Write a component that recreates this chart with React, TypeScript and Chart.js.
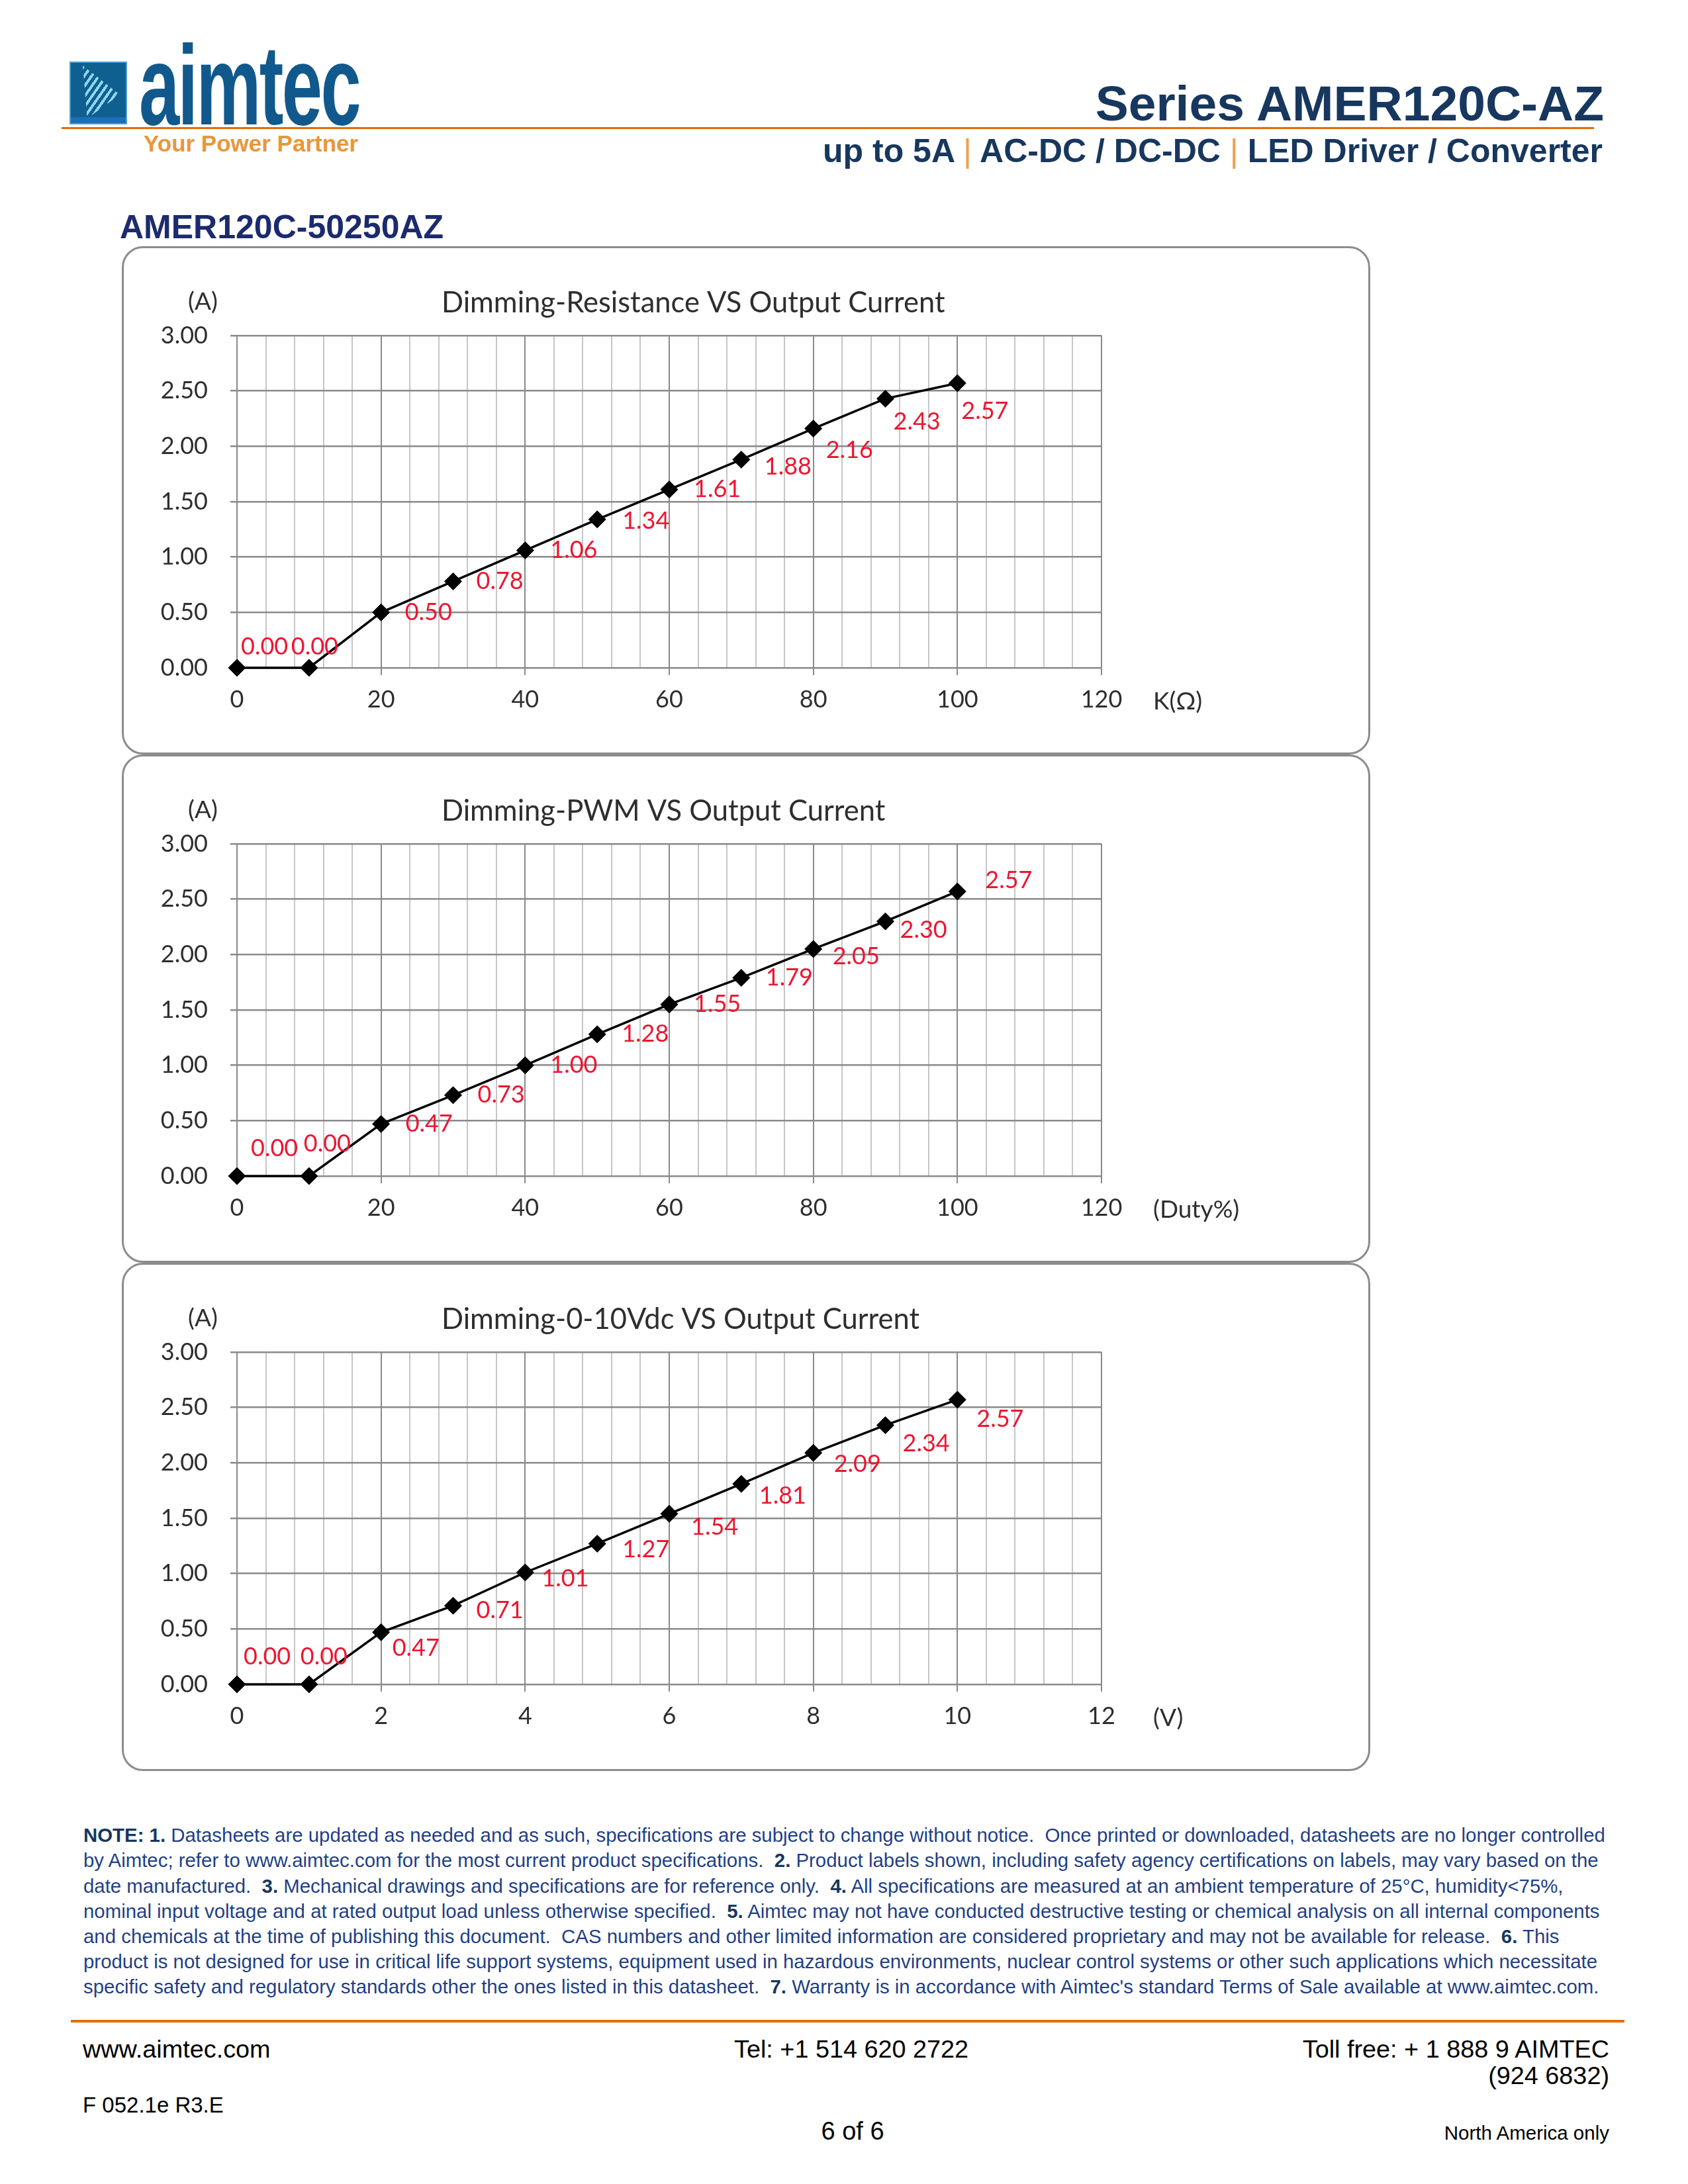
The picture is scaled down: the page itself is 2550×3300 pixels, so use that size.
import React, { useEffect, useRef } from 'react';
import { Chart, registerables } from 'chart.js';

Chart.register(...registerables);

// ---------------- data ----------------
const RES_X = [0, 10, 20, 30, 40, 50, 60, 70, 80, 90, 100];
const RES_Y = [0.0, 0.0, 0.5, 0.78, 1.06, 1.34, 1.61, 1.88, 2.16, 2.43, 2.57];

const PWM_X = [0, 10, 20, 30, 40, 50, 60, 70, 80, 90, 100];
const PWM_Y = [0.0, 0.0, 0.47, 0.73, 1.0, 1.28, 1.55, 1.79, 2.05, 2.3, 2.57];

const VDC_X = [0, 1, 2, 3, 4, 5, 6, 7, 8, 9, 10];
const VDC_Y = [0.0, 0.0, 0.47, 0.71, 1.01, 1.27, 1.54, 1.81, 2.09, 2.34, 2.57];

const Y_MIN = 0;
const Y_MAX = 3;
const Y_STEP = 0.5;

const RES_AXIS = { max: 120, major: 20, minor: 4 };
const PWM_AXIS = { max: 120, major: 20, minor: 4 };
const VDC_AXIS = { max: 12, major: 2, minor: 0.4 };

const TITLES = [
  'Dimming-Resistance VS Output Current',
  'Dimming-PWM VS Output Current',
  'Dimming-0-10Vdc VS Output Current',
];
const X_TITLES = ['K(Ω)', '(Duty%)', '(V)'];
const Y_TITLE = '(A)';

// data-label placement (px offsets of the label's left/middle from its point)
const RES_LABEL_OFFSETS: [number, number][] = [
  [6, -32], [-27, -32], [36, 0], [35, 0], [38, 0], [38, 3], [37, 0], [35, 11], [19, 33], [12, 35], [6, 42],
];
const PWM_LABEL_OFFSETS: [number, number][] = [
  [21, -42], [-8, -49], [37, 0], [37, 0], [38, 0], [37, 0], [37, 0], [37, 0], [29, 11], [22, 13], [42, -17],
];
const VDC_LABEL_OFFSETS: [number, number][] = [
  [10, -42], [-13, -42], [17, 24], [35, 7], [25, 9], [38, 9], [33, 20], [27, 18], [31, 17], [26, 28], [29, 29],
];

// ---------------- styles ----------------
const CHART_FONT = 'Lato, "Open Sans", sans-serif';
const PAGE_FONT = '"Liberation Sans", Arial, sans-serif';
const RED = '#ee1530';
const AXIS_TEXT = '#2e2e2e';
const MAJOR = '#8a8a8a';
const MINOR = '#c6c6c6';
const NAVY = '#17375e';
const NOTE_BLUE = '#1f3f86';
const ORANGE = '#e46c0a';

const PANEL_LEFT = 184;
const PANEL_W = 1886;
const PANEL_H = 768;
const PANEL_TOPS = [372, 1140, 1908];

type ChartCfg = {
  title: string;
  xTitle: string;
  xs: number[];
  ys: number[];
  axis: { max: number; major: number; minor: number };
  offsets: [number, number][];
};

const isMult = (v: number, m: number) => Math.abs(v / m - Math.round(v / m)) < 1e-6;

function DimChart({ cfg, top }: { cfg: ChartCfg; top: number }) {
  const ref = useRef<HTMLCanvasElement>(null);
  useEffect(() => {
    const canvas = ref.current!;
    const textPlugin = {
      id: 'pageTexts',
      afterDatasetsDraw(chart: any) {
        const ctx = chart.ctx as CanvasRenderingContext2D;
        const meta = chart.getDatasetMeta(0);
        ctx.save();
        ctx.textAlign = 'left';
        ctx.textBaseline = 'middle';
        ctx.font = `36px ${CHART_FONT}`;
        ctx.fillStyle = RED;
        meta.data.forEach((pt: any, i: number) => {
          const [dx, dy] = cfg.offsets[i];
          ctx.fillText(cfg.ys[i].toFixed(2), pt.x + dx, pt.y + dy);
        });
        ctx.fillStyle = AXIS_TEXT;
        ctx.font = `37px ${CHART_FONT}`;
        ctx.fillText(Y_TITLE, 100, 84);
        ctx.font = `43.5px ${CHART_FONT}`;
        ctx.fillText(cfg.title, 483, 86);
        ctx.font = `37px ${CHART_FONT}`;
        ctx.fillText(cfg.xTitle, 1558, 688);
        ctx.restore();
      },
    };
    const { max, major, minor } = cfg.axis;
    const chart = new Chart(canvas, {
      type: 'scatter',
      data: {
        datasets: [
          {
            data: cfg.xs.map((x, i) => ({ x, y: cfg.ys[i] })),
            showLine: true,
            borderColor: '#000',
            borderWidth: 3.5,
            pointStyle: 'rectRot',
            pointRadius: 13,
            pointBackgroundColor: '#000',
            pointBorderColor: '#000',
            pointBorderWidth: 1,
            tension: 0,
            clip: false as any,
          },
        ],
      },
      options: {
        animation: false,
        responsive: false,
        devicePixelRatio: 1,
        layout: { padding: { left: 0, right: PANEL_W - 1480, top: 135, bottom: 0 } },
        plugins: { legend: { display: false }, tooltip: { enabled: false }, title: { display: false } },
        scales: {
          x: {
            type: 'linear',
            min: 0,
            max,
            afterFit: (s: any) => {
              s.height = PANEL_H - 637;
            },
            ticks: {
              stepSize: minor,
              autoSkip: false,
              maxRotation: 0,
              padding: 16,
              color: AXIS_TEXT,
              font: { family: CHART_FONT, size: 36 },
              callback: (v: any) => (isMult(Number(v), major) ? String(Math.round(Number(v))) : ''),
            },
            grid: {
              color: (c: any) => (c.tick && isMult(c.tick.value, major) ? MAJOR : MINOR),
              tickColor: (c: any) => (c.tick && isMult(c.tick.value, major) ? MAJOR : 'rgba(0,0,0,0)'),
              lineWidth: 2,
              tickLength: 11,
            },
            border: { display: false },
          },
          y: {
            type: 'linear',
            min: Y_MIN,
            max: Y_MAX,
            afterFit: (s: any) => {
              s.width = 174;
            },
            ticks: {
              stepSize: Y_STEP,
              padding: 34,
              color: AXIS_TEXT,
              font: { family: CHART_FONT, size: 36 },
              callback: (v: any) => Number(v).toFixed(2),
            },
            grid: { color: MAJOR, lineWidth: 2.5, tickLength: 10, tickColor: MAJOR },
            border: { display: false },
          },
        },
      },
      plugins: [textPlugin],
    } as any);
    return () => chart.destroy();
  }, [cfg]);
  return (
    <canvas
      ref={ref}
      width={PANEL_W}
      height={PANEL_H}
      style={{ position: 'absolute', left: PANEL_LEFT, top, width: PANEL_W, height: PANEL_H }}
    />
  );
}

const CHARTS: ChartCfg[] = [
  { title: TITLES[0], xTitle: X_TITLES[0], xs: RES_X, ys: RES_Y, axis: RES_AXIS, offsets: RES_LABEL_OFFSETS },
  { title: TITLES[1], xTitle: X_TITLES[1], xs: PWM_X, ys: PWM_Y, axis: PWM_AXIS, offsets: PWM_LABEL_OFFSETS },
  { title: TITLES[2], xTitle: X_TITLES[2], xs: VDC_X, ys: VDC_Y, axis: VDC_AXIS, offsets: VDC_LABEL_OFFSETS },
];

// ---------------- page text ----------------
const NOTE_LINES: React.ReactNode[] = [
  <>
    <b style={{ color: NAVY }}>NOTE: 1.</b> Datasheets are updated as needed and as such, specifications are subject to change without notice.{'  '}Once printed or downloaded, datasheets are no longer controlled
  </>,
  <>
    by Aimtec; refer to www.aimtec.com for the most current product specifications.{'  '}<b style={{ color: NAVY }}>2.</b> Product labels shown, including safety agency certifications on labels, may vary based on the
  </>,
  <>
    date manufactured.{'  '}<b style={{ color: NAVY }}>3.</b> Mechanical drawings and specifications are for reference only.{'  '}<b style={{ color: NAVY }}>4.</b> All specifications are measured at an ambient temperature of 25°C, humidity&lt;75%,
  </>,
  <>
    nominal input voltage and at rated output load unless otherwise specified.{'  '}<b style={{ color: NAVY }}>5.</b> Aimtec may not have conducted destructive testing or chemical analysis on all internal components
  </>,
  <>
    and chemicals at the time of publishing this document.{'  '}CAS numbers and other limited information are considered proprietary and may not be available for release.{'  '}<b style={{ color: NAVY }}>6.</b> This
  </>,
  <>
    product is not designed for use in critical life support systems, equipment used in hazardous environments, nuclear control systems or other such applications which necessitate
  </>,
  <>
    specific safety and regulatory standards other the ones listed in this datasheet.{'  '}<b style={{ color: NAVY }}>7.</b> Warranty is in accordance with Aimtec's standard Terms of Sale available at www.aimtec.com.
  </>,
];

type TxtProps = {
  x: number;
  baseline: number;
  size: number;
  weight?: number | string;
  color?: string;
  align?: 'left' | 'right' | 'center';
  family?: string;
  children: React.ReactNode;
  extra?: React.CSSProperties;
};

function Txt({ x, baseline, size, weight = 400, color = '#000', align = 'left', family = PAGE_FONT, children, extra }: TxtProps) {
  const top = baseline - 0.8465 * size;
  const style: React.CSSProperties = {
    position: 'absolute',
    top,
    fontFamily: family,
    fontSize: size,
    lineHeight: `${size}px`,
    fontWeight: weight as any,
    color,
    whiteSpace: 'pre',
    ...extra,
  };
  if (align === 'left') style.left = x;
  else if (align === 'right') style.right = 2550 - x;
  else {
    style.left = x;
    style.transform = 'translateX(-50%)';
  }
  return <div style={style}>{children}</div>;
}

export default function App() {
  return (
    <div
      style={{
        position: 'absolute',
        left: 0,
        top: 0,
        width: 2550,
        height: 3300,
        overflow: 'hidden',
        background: '#fff',
      }}
    >
      {/* logo */}
      <div
        style={{
          position: 'absolute',
          left: 105,
          top: 93,
          width: 87,
          height: 95,
          background: '#0f5f8f',
          border: '2px solid #4a9fd0',
          boxSizing: 'border-box',
          overflow: 'hidden',
        }}
      >
        <div
          style={{
            position: 'absolute',
            left: 18,
            top: 4,
            width: 56,
            height: 80,
            clipPath: 'polygon(0 0, 100% 55%, 12% 100%)',
            background: 'repeating-linear-gradient(125deg, #8fd4f2 0 4px, rgba(0,0,0,0) 4px 9px)',
          }}
        />
        <div style={{ position: 'absolute', left: 0, bottom: 0, width: '100%', height: 9, background: '#1a6fb8' }} />
      </div>
      <Txt
        x={210}
        baseline={188}
        size={170}
        weight={700}
        color="#11598c"
        extra={{ transform: 'scaleX(0.647)', transformOrigin: 'left top', letterSpacing: -4 }}
      >
        aimtec
      </Txt>
      <div style={{ position: 'absolute', left: 93, top: 192, width: 2315, height: 3, background: ORANGE }} />
      <Txt x={217} baseline={229} size={35} weight={700} color="#e8973a">
        Your Power Partner
      </Txt>

      {/* header right */}
      <Txt x={2423} baseline={182} size={75} weight={700} color={NAVY} align="right">
        Series AMER120C-AZ
      </Txt>
      <Txt x={2421} baseline={245} size={50} weight={700} color={NAVY} align="right">
        up to 5A <span style={{ color: '#f0a050', fontWeight: 400 }}>|</span> AC-DC / DC-DC{' '}
        <span style={{ color: '#f0a050', fontWeight: 400 }}>|</span> LED Driver / Converter
      </Txt>

      <Txt x={181} baseline={360} size={50} weight={700} color="#1c2a6e">
        AMER120C-50250AZ
      </Txt>

      {/* panels */}
      {PANEL_TOPS.map((t, i) => (
        <div
          key={'p' + i}
          style={{
            position: 'absolute',
            left: PANEL_LEFT,
            top: t,
            width: PANEL_W,
            height: PANEL_H,
            border: '3px solid #8c8c8c',
            borderRadius: 32,
            boxSizing: 'border-box',
          }}
        />
      ))}
      {CHARTS.map((c, i) => (
        <DimChart key={'c' + i} cfg={c} top={PANEL_TOPS[i]} />
      ))}

      {/* notes */}
      {NOTE_LINES.map((l, i) => (
        <Txt key={'n' + i} x={126} baseline={2783 + i * 38.2} size={29.4} color={NOTE_BLUE}>
          {l}
        </Txt>
      ))}

      {/* footer */}
      <div style={{ position: 'absolute', left: 107, top: 3052, width: 2347, height: 4, background: ORANGE }} />
      <Txt x={125} baseline={3110} size={37.8}>
        www.aimtec.com
      </Txt>
      <Txt x={1109} baseline={3110} size={37.8}>
        Tel: +1 514 620 2722
      </Txt>
      <Txt x={2431} baseline={3110} size={37.8} align="right">
        Toll free: + 1 888 9 AIMTEC
      </Txt>
      <Txt x={2431} baseline={3150} size={37.8} align="right">
        (924 6832)
      </Txt>
      <Txt x={125} baseline={3192} size={33}>
        F 052.1e R3.E
      </Txt>
      <Txt x={1288} baseline={3233} size={38} align="center">
        6 of 6
      </Txt>
      <Txt x={2431} baseline={3233} size={29.5} align="right">
        North America only
      </Txt>
    </div>
  );
}
